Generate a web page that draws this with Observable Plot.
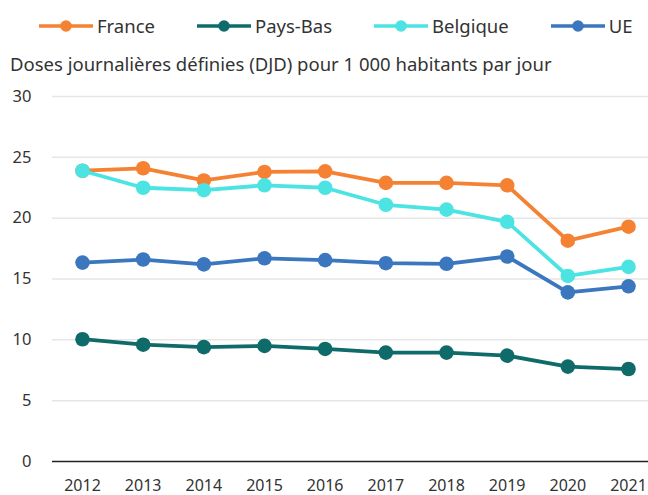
<!DOCTYPE html>
<html>
<head>
<meta charset="utf-8">
<script src="https://cdn.jsdelivr.net/npm/d3@7"></script>
<script src="https://cdn.jsdelivr.net/npm/@observablehq/plot@0.6"></script>
<style>
  body { margin: 0; background: #fff; font-family: "Noto Sans", sans-serif; color: #333; }
  #wrap { position: relative; width: 648px; height: 495px; overflow: hidden; }
  #legend { position: absolute; left: 39px; top: 12px; display: flex; gap: 42px; font-size: 18.5px; line-height: 27px; }
  .item { display: flex; align-items: center; gap: 4px; }
  #subtitle { position: absolute; left: 10px; top: 51px; font-size: 18.5px; line-height: 26px; white-space: nowrap; }
  #chart { position: absolute; left: 0; top: 80px; }
</style>
</head>
<body>
<div id="wrap">
  <div id="legend"></div>
  <div id="subtitle">Doses journalières définies (DJD) pour 1 000 habitants par jour</div>
  <div id="chart"></div>
</div>
<script>
const years = [2012, 2013, 2014, 2015, 2016, 2017, 2018, 2019, 2020, 2021];
const seriesNames = ["France", "Pays-Bas", "Belgique", "UE"];
const seriesColors = ["#F58232", "#0F6B6A", "#4CE3E3", "#3A77BF"];
const france   = [23.9, 24.1, 23.1, 23.8, 23.85, 22.9, 22.9, 22.7, 18.15, 19.3];
const paysBas  = [10.05, 9.6, 9.4, 9.5, 9.25, 8.95, 8.95, 8.7, 7.8, 7.6];
const belgique = [23.9, 22.5, 22.3, 22.7, 22.5, 21.1, 20.7, 19.7, 15.25, 16.0];
const ue       = [16.35, 16.6, 16.2, 16.7, 16.55, 16.3, 16.25, 16.85, 13.9, 14.4];
const yTicks = [0, 5, 10, 15, 20, 25, 30];

const values = [france, paysBas, belgique, ue];
const data = [];
seriesNames.forEach((s, i) => years.forEach((y, j) => data.push({series: s, year: y, value: values[i][j]})));

// Legend
const legend = document.getElementById("legend");
seriesNames.forEach((s, i) => {
  const c = seriesColors[i];
  const item = document.createElement("div");
  item.className = "item";
  item.innerHTML = `<svg width="54" height="14"><line x1="0" x2="54" y1="7" y2="7" stroke="${c}" stroke-width="3.5" stroke-linecap="round"/><circle cx="27" cy="7" r="5.8" fill="${c}"/></svg><span>${s}</span>`;
  legend.appendChild(item);
});

const marks = [
  Plot.ruleY(yTicks.filter(d => d > 0), {stroke: "#e6e6e6", strokeWidth: 1.5}),
  Plot.ruleY([0], {stroke: "#222", strokeWidth: 1.5}),
  Plot.axisY({ticks: yTicks, tickSize: 0, tickPadding: 21, fontSize: 16.5, label: null, fill: "#333"}),
  Plot.axisX({ticks: years, tickFormat: d => String(d), tickSize: 0, tickPadding: 18, fontSize: 16, label: null, fill: "#333"})
];
seriesNames.forEach((s, i) => {
  const d = data.filter(r => r.series === s);
  marks.push(Plot.line(d, {x: "year", y: "value", stroke: seriesColors[i], strokeWidth: 3.8}));
  marks.push(Plot.dot(d, {x: "year", y: "value", fill: seriesColors[i], r: 7.3}));
});

const chart = Plot.plot({
  width: 648,
  height: 415,
  marginLeft: 52,
  marginRight: 0,
  marginTop: 16,
  marginBottom: 34,
  insetLeft: 30,
  insetRight: 20,
  style: {fontFamily: "'Noto Sans', sans-serif", fontSize: "16px", color: "#333", background: "#fff"},
  x: {type: "linear", domain: [2012, 2021]},
  y: {domain: [0, 30]},
  marks
});
document.getElementById("chart").appendChild(chart);
</script>
</body>
</html>
